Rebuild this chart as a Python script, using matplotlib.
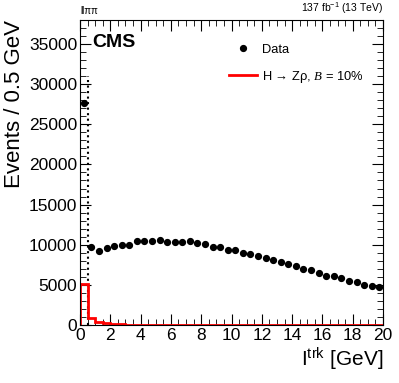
import numpy as np
import matplotlib
matplotlib.use("Agg")
import matplotlib.pyplot as plt
from matplotlib.ticker import MultipleLocator

plt.rcParams['font.family'] = ['Liberation Sans', 'DejaVu Sans']
plt.rcParams['mathtext.fontset'] = 'custom'
plt.rcParams['mathtext.rm'] = 'Liberation Sans'
plt.rcParams['mathtext.it'] = 'Liberation Serif:italic'

# bin edges 0..20 GeV, 0.5 GeV wide
edges = np.arange(0, 20.5, 0.5)
centers = edges[:-1] + 0.25

data_counts = [27700, 9750, 9250, 9600, 9850, 9950, 9950, 10450, 10450, 10500,
               10600, 10350, 10350, 10350, 10500, 10180, 10050, 9750, 9750, 9350,
               9350, 9000, 8800, 8600, 8300, 8100, 7800, 7550, 7300, 7000,
               6850, 6450, 6150, 6150, 5900, 5520, 5400, 5020, 4900, 4770]

signal_counts = [5150, 900, 430, 200, 110, 70, 45, 30, 20, 15,
                 10, 8, 6, 5, 4, 3, 3, 2, 2, 2,
                 1, 1, 1, 1, 1, 1, 1, 1, 1, 1,
                 1, 1, 1, 1, 1, 1, 1, 1, 1, 1]

cut_value = 0.5

fig = plt.figure(figsize=(3.99, 3.83), dpi=100)
ax = fig.add_axes([0.2005, 0.1514, 0.7595, 0.7966])

ax.stairs(signal_counts, edges, color='red', linewidth=2, zorder=2)
ax.errorbar(centers, data_counts, yerr=np.sqrt(data_counts), fmt='o', color='black',
            markersize=4.2, elinewidth=0.8, capsize=0, zorder=3)
ax.plot([cut_value, cut_value], [0, 31000], color='black', linestyle=':', linewidth=1.5, zorder=1)

ax.set_xlim(0, 20)
ax.set_ylim(0, 38000)
ax.xaxis.set_major_locator(MultipleLocator(2))
ax.xaxis.set_minor_locator(MultipleLocator(0.5))
ax.yaxis.set_major_locator(MultipleLocator(5000))
ax.yaxis.set_minor_locator(MultipleLocator(1000))
ax.tick_params(which='both', direction='in', top=True, right=True, labelsize=12.5, pad=2)
ax.tick_params(which='major', length=8)
ax.tick_params(which='minor', length=4)
for s in ax.spines.values():
    s.set_linewidth(0.8)

ax.set_ylabel("Events / 0.5 GeV", fontsize=16, loc='top', labelpad=3)
ax.set_xlabel(r"I$^{\rm trk}$ [GeV]", fontsize=15, loc='right', labelpad=2)

ax.text(0.04, 0.955, "CMS", transform=ax.transAxes, fontsize=14, fontweight='bold', va='top')
ax.text(0.0, 1.012, "llππ", transform=ax.transAxes, fontsize=7, va='bottom')
ax.text(1.0, 1.012, r"137 fb$^{-1}$ (13 TeV)", transform=ax.transAxes, fontsize=7.5,
        va='bottom', ha='right')

h_data = ax.errorbar([], [], fmt='o', color='black', markersize=4.2)
h_sig, = ax.plot([], [], color='red', linewidth=2)
ax.legend([h_data, h_sig], ["Data", r"H → Zρ, $\mathit{B}$ = 10%"],
          loc='upper right', bbox_to_anchor=(0.975, 0.96), frameon=False, fontsize=9.3,
          handlelength=2.2, labelspacing=1.0, handletextpad=0.4)

fig.savefig("out.png", dpi=100)
